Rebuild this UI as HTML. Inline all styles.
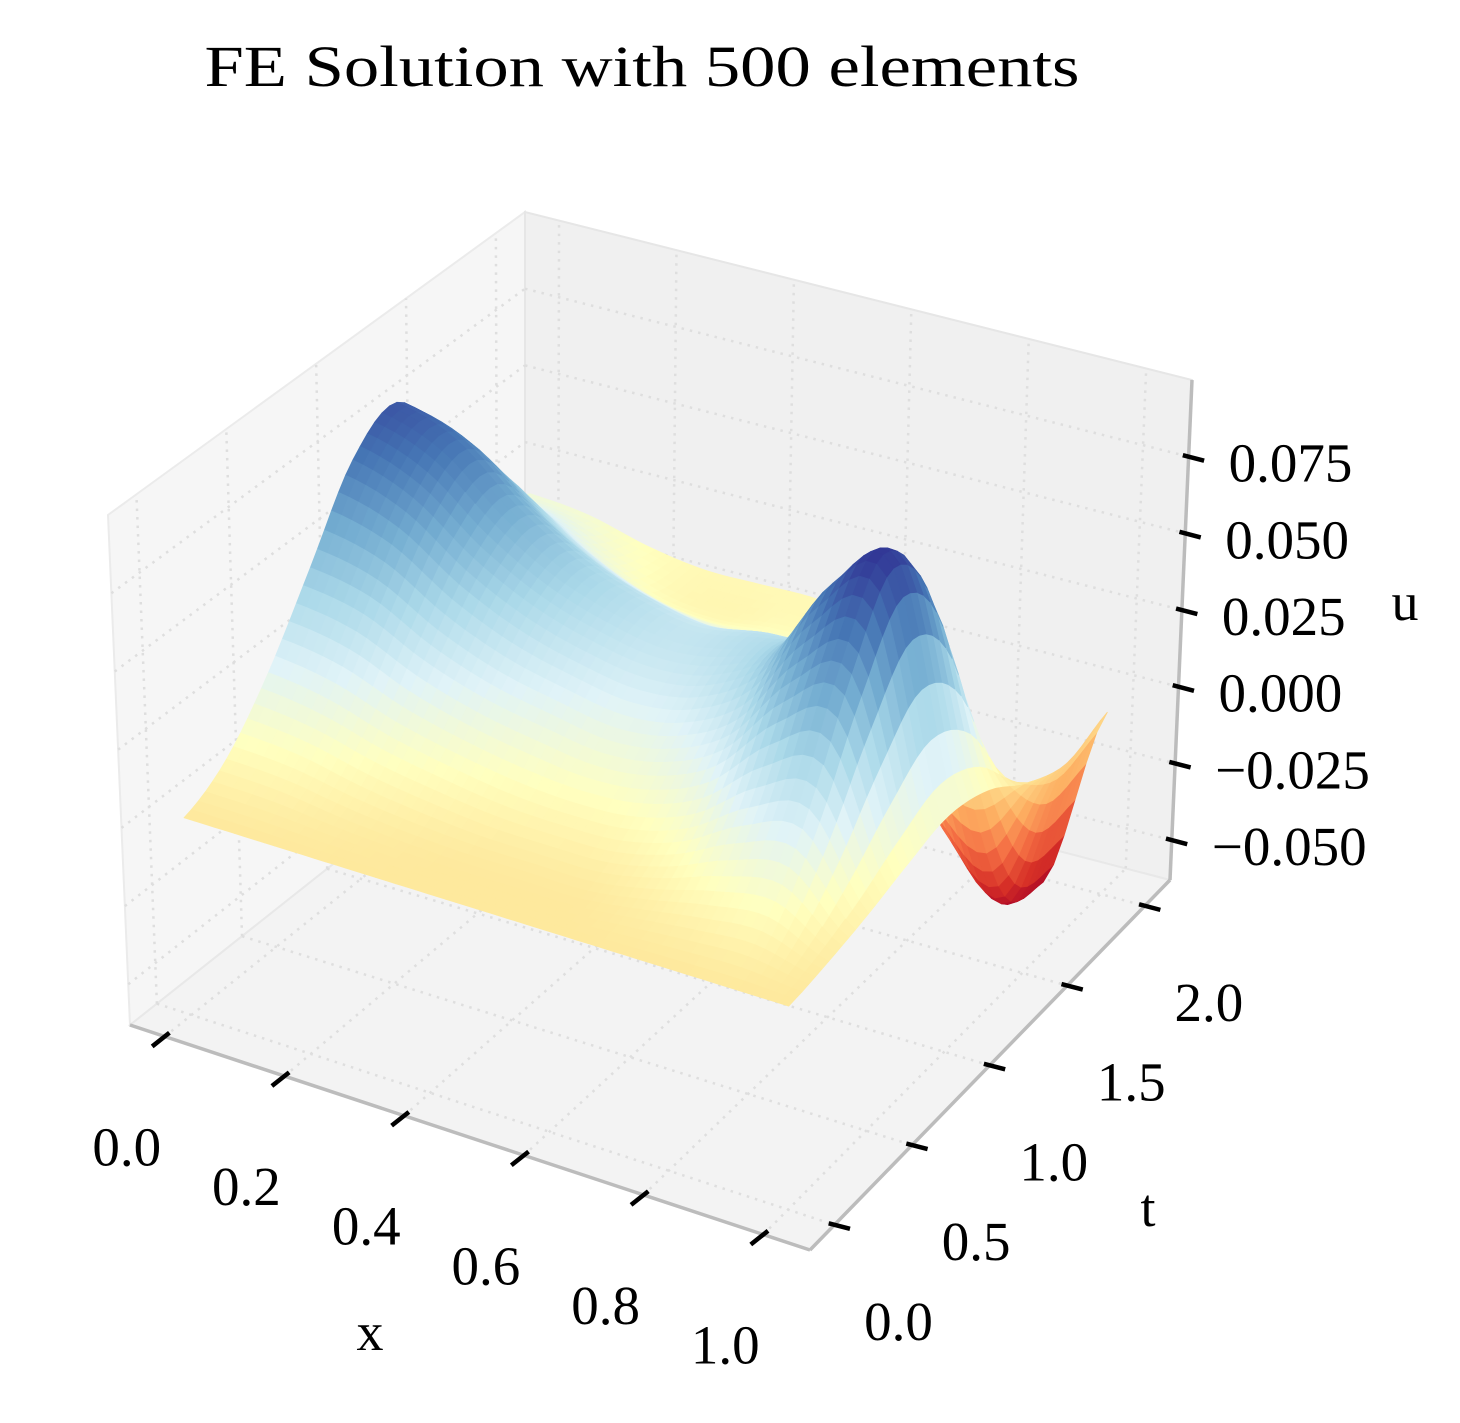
<!DOCTYPE html>
<html><head><meta charset="utf-8"><style>
html,body{margin:0;padding:0;background:#fff;}
svg text{font-family:"Liberation Serif","DejaVu Serif",serif;fill:#000;}
</style></head>
<body>
<svg id="chart" width="1460" height="1418" viewBox="0 0 1460 1418" xmlns="http://www.w3.org/2000/svg">
<rect width="1460" height="1418" fill="#fff"/>
<text x="642" y="86" font-size="58" text-anchor="middle" textLength="875" lengthAdjust="spacingAndGlyphs">FE Solution with 500 elements</text>
<g id="panes"></g>
<g id="grid"></g>
<g id="axes"></g>
<g id="surface"></g>
<g id="ticks"></g>
<g id="labels"></g>
<text x="370" y="1350" font-size="54" text-anchor="middle">x</text>
<text x="1148" y="1226" font-size="54" text-anchor="middle">t</text>
<text x="1405" y="620" font-size="54" text-anchor="middle">u</text>
</svg>
<script>
// ---- data ----
const xNodes = [0,0.1,0.2,0.3,0.4,0.5,0.6,0.7,0.8,0.9,1.0];
const tNodes = [0,0.25,0.5,0.75,1.0,1.25,1.5,1.75,2.0];
// u values: one row per t node, one column per x node
const uRow0 = [0,0,0,0,0,0,0,0,0,0,0];
const uRow1 = [0.008,0.007,0.004,0.002,0.001,0.001,0.001,0.004,0.008,0.010,0.002];
const uRow2 = [0.025,0.022,0.016,0.012,0.009,0.008,0.009,0.015,0.027,0.032,0.005];
const uRow3 = [0.048,0.044,0.034,0.027,0.023,0.020,0.023,0.033,0.055,0.063,0.009];
const uRow4 = [0.072,0.065,0.051,0.041,0.035,0.032,0.035,0.047,0.075,0.085,0.012];
const uRow5 = [0.080,0.073,0.057,0.045,0.038,0.034,0.037,0.041,0.057,0.062,0.008];
const uRow6 = [0.058,0.052,0.038,0.028,0.022,0.020,0.022,0.015,0.002,-0.008,-0.002];
const uRow7 = [0.032,0.028,0.018,0.010,0.008,0.010,0.008,-0.012,-0.042,-0.056,-0.008];
const uRow8 = [0.018,0.016,0.011,0.008,0.008,0.008,0.004,-0.016,-0.050,-0.064,-0.004];
const xTicks = [0,0.2,0.4,0.6,0.8,1.0];
const xTickLabels = ["0.0","0.2","0.4","0.6","0.8","1.0"];
const tTicks = [0,0.5,1.0,1.5,2.0];
const tTickLabels = ["0.0","0.5","1.0","1.5","2.0"];
const zTicks = [-0.05,-0.025,0,0.025,0.05,0.075];
const zTickLabels = ["\u22120.050","\u22120.025","0.000","0.025","0.050","0.075"];

const uGrid = [uRow0,uRow1,uRow2,uRow3,uRow4,uRow5,uRow6,uRow7,uRow8];
const XMIN=-0.058, XMAX=1.078, TMIN=-0.158, TMAX=2.162, ZMIN=-0.063, ZMAX=0.100;
const C = {
 "000":[130,1025],"100":[810,1250],"010":[525,712],"110":[1170,880],
 "001":[108,515],"101":[812,720],"011":[525,212],"111":[1192,380]
};
function lerp(p,q,s){return [p[0]+(q[0]-p[0])*s,p[1]+(q[1]-p[1])*s];}
function projN(a,b,c){
  const b0=lerp(lerp(C["000"],C["100"],a),lerp(C["010"],C["110"],a),b);
  const b1=lerp(lerp(C["001"],C["101"],a),lerp(C["011"],C["111"],a),b);
  return lerp(b0,b1,c);
}
function nx(x){return (x-XMIN)/(XMAX-XMIN);}
function nt(t){return (t-TMIN)/(TMAX-TMIN);}
function nz(z){return (z-ZMIN)/(ZMAX-ZMIN);}
function proj(x,t,z){return projN(nx(x),nt(t),nz(z));}
const NS="http://www.w3.org/2000/svg";
function mk(tag,attrs,parent){const e=document.createElementNS(NS,tag);for(const k in attrs)e.setAttribute(k,attrs[k]);parent.appendChild(e);return e;}
function pts(arr){return arr.map(p=>p[0].toFixed(1)+","+p[1].toFixed(1)).join(" ");}

const panes=document.getElementById('panes');
let el;
el=mk('polygon',{points:pts([C["000"],C["010"],C["011"],C["001"]]),fill:'#f6f6f6',stroke:'#ebebeb','stroke-width':2},panes);


el=mk('polygon',{points:pts([C["010"],C["110"],C["111"],C["011"]]),fill:'#f0f0f0',stroke:'#e6e6e6','stroke-width':2},panes);


el=mk('polygon',{points:pts([C["000"],C["100"],C["110"],C["010"]]),fill:'#f3f3f3',stroke:'#e8e8e8','stroke-width':2},panes);



const grid=document.getElementById('grid');
const gs={stroke:'#dedede','stroke-width':2.5,'stroke-dasharray':'2.5,6',fill:'none'};
function gline(p,q,name){const l=mk('line',Object.assign({x1:p[0],y1:p[1],x2:q[0],y2:q[1]},gs),grid);
  
  }
xTicks.forEach(x=>{gline(proj(x,TMIN,ZMIN),proj(x,TMAX,ZMIN),'x-grid-floor');gline(proj(x,TMAX,ZMIN),proj(x,TMAX,ZMAX),'x-grid-back');});
tTicks.forEach(t=>{gline(proj(XMIN,t,ZMIN),proj(XMAX,t,ZMIN),'t-grid-floor');gline(proj(XMIN,t,ZMIN),proj(XMIN,t,ZMAX),'t-grid-left');});
zTicks.forEach(z=>{gline(proj(XMIN,TMIN,z),proj(XMIN,TMAX,z),'z-grid-left');gline(proj(XMIN,TMAX,z),proj(XMAX,TMAX,z),'z-grid-back');});

const axes=document.getElementById('axes');
function aline(p,q,name){const l=mk('line',{x1:p[0],y1:p[1],x2:q[0],y2:q[1],stroke:'#bcbcbc','stroke-width':3.5},axes);
  
  }
aline(C["000"],C["100"],'x-axis-line');
aline(C["100"],C["110"],'t-axis-line');
aline(C["110"],C["111"],'z-axis-line');

const cmapStops=["#a50026","#d73027","#f46d43","#fdae61","#fee090","#ffffbf","#e0f3f8","#abd9e9","#74add1","#4575b4","#313695"];
function hex(h){return [parseInt(h.substr(1,2),16),parseInt(h.substr(3,2),16),parseInt(h.substr(5,2),16)];}
const cmapRGB=cmapStops.map(hex);
function cmap(s){s=Math.max(0,Math.min(1,s));const f=s*10;const i=Math.min(9,Math.floor(f));const r=f-i;
  const a=cmapRGB[i],b=cmapRGB[i+1];return 'rgb('+a.map((v,k)=>Math.round(v+(b[k]-v)*r)).join(',')+')';}

function cr(p0,p1,p2,p3,s){return 0.5*((2*p1)+(-p0+p2)*s+(2*p0-5*p1+4*p2-p3)*s*s+(-p0+3*p1-3*p2+p3)*s*s*s);}
function gv(i,j){i=Math.max(0,Math.min(tNodes.length-1,i));j=Math.max(0,Math.min(xNodes.length-1,j));return uGrid[i][j];}
function uAt(x,t){
  const fx=(x-xNodes[0])/(xNodes[xNodes.length-1]-xNodes[0])*(xNodes.length-1);
  const ft=(t-tNodes[0])/(tNodes[tNodes.length-1]-tNodes[0])*(tNodes.length-1);
  let j=Math.min(xNodes.length-2,Math.floor(fx)), i=Math.min(tNodes.length-2,Math.floor(ft));
  const sx=fx-j, st=ft-i; const rows=[];
  for(let k=-1;k<=2;k++){rows.push(cr(gv(i+k,j-1),gv(i+k,j),gv(i+k,j+1),gv(i+k,j+2),sx));}
  return cr(rows[0],rows[1],rows[2],rows[3],st);
}
const surf=document.getElementById('surface');
const NX=60, NT=48;
const X0=xNodes[0],X1=xNodes[xNodes.length-1],T0=tNodes[0],T1=tNodes[tNodes.length-1];
const Z=[];let umin=Infinity,umax=-Infinity;
for(let i=0;i<=NT;i++){Z.push([]);for(let j=0;j<=NX;j++){const v=uAt(X0+(X1-X0)*j/NX,T0+(T1-T0)*i/NT);Z[i].push(v);if(v<umin)umin=v;if(v>umax)umax=v;}}
const faces=[];
for(let i=0;i<NT;i++)for(let j=0;j<NX;j++){
  const x0=X0+(X1-X0)*j/NX,x1=X0+(X1-X0)*(j+1)/NX,t0=T0+(T1-T0)*i/NT,t1=T0+(T1-T0)*(i+1)/NT;
  const zs=[Z[i][j],Z[i][j+1],Z[i+1][j+1],Z[i+1][j]];
  const zm=(zs[0]+zs[1]+zs[2]+zs[3])/4;
  const P=[proj(x0,t0,zs[0]),proj(x1,t0,zs[1]),proj(x1,t1,zs[2]),proj(x0,t1,zs[3])];
  const depth=0.433*4*nx((x0+x1)/2)-0.75*4*nt((t0+t1)/2)+0.5*3*nz(zm);
  faces.push({P,zm,depth});
}
faces.sort((a,b)=>a.depth-b.depth);
faces.forEach(f=>{const col=cmap((f.zm-umin)/(umax-umin));
  const p=mk('polygon',{points:pts(f.P),fill:col,stroke:col,'stroke-width':0.8,'stroke-linejoin':'round'},surf);
  
  
});

const ticks=document.getElementById('ticks'), labels=document.getElementById('labels');
function unit(v){const l=Math.hypot(v[0],v[1]);return [v[0]/l,v[1]/l];}
const dT=unit([C["000"][0]-C["010"][0],C["000"][1]-C["010"][1]]);
const dX=unit([C["110"][0]-C["010"][0],C["110"][1]-C["010"][1]]);
function tick(p,d,name){const l=mk('line',{x1:p[0]-d[0]*6,y1:p[1]-d[1]*6,x2:p[0]+d[0]*16,y2:p[1]+d[1]*16,stroke:'#000','stroke-width':4.5},ticks);
  
  }
function label(p,txt,name,anchor){const tx=mk('text',{x:p[0].toFixed(1),y:p[1].toFixed(1),'font-size':55,'text-anchor':anchor||'middle'},labels);tx.textContent=txt;
  
  }
xTicks.forEach((x,k)=>{const p=proj(x,TMIN,ZMIN);tick(p,dT,'x-tick');
  label([p[0]-38,p[1]+129],xTickLabels[k],'x-tick-label');});
tTicks.forEach((t,k)=>{const p=proj(XMAX,t,ZMIN);tick(p,dX,'t-tick');
  label([p[0]+64,p[1]+115],tTickLabels[k],'t-tick-label');});
zTicks.forEach((z,k)=>{const p=proj(XMAX,TMAX,z);tick(p,dX,'z-tick');
  label([p[0]+40,p[1]+25],zTickLabels[k],'z-tick-label','start');});
</script>
</body></html>
